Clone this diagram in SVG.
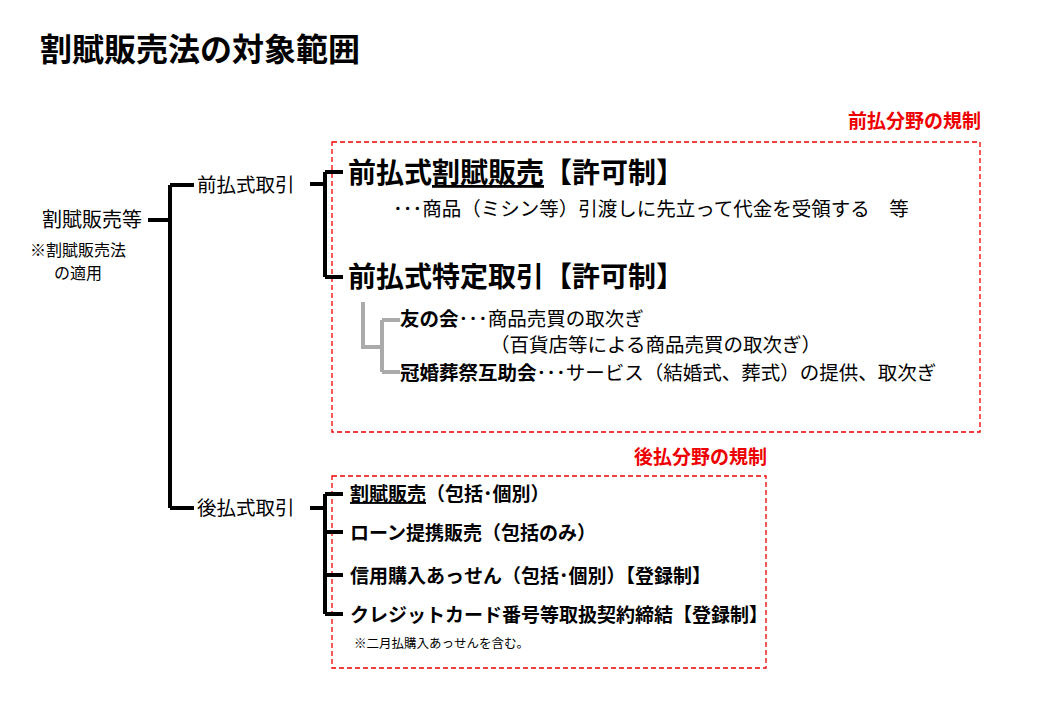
<svg xmlns="http://www.w3.org/2000/svg" width="1040" height="720" viewBox="0 0 1040 720">
<style>
text{font-family:"Noto Sans CJK JP","Noto Sans CJK SC",sans-serif;fill:#000}
.k{stroke:#000;stroke-width:4;fill:none}
.g{stroke:#aaa;stroke-width:4;fill:none}
.box{fill:none;stroke:#e00;stroke-width:1.3;stroke-dasharray:5,3}
.red{fill:#e00;font-weight:bold;font-size:19px}
.big{font-size:28px;font-weight:bold}
.m{font-size:19px;font-weight:bold}
.n{font-size:19.5px}
</style>
<rect width="1040" height="720" fill="#fff"/>
<text x="40" y="61" font-size="32" font-weight="bold">割賦販売法の対象範囲</text>
<g id="regions">
<rect class="box" x="332" y="142" width="648" height="290"/>
<rect class="box" x="332" y="476" width="434" height="192"/>
<text class="red" x="981" y="128" text-anchor="end">前払分野の規制</text>
<text class="red" x="767" y="464" text-anchor="end">後払分野の規制</text>
</g>
<g id="connectors">
<path class="k" d="M148 220H170M170 185V508M170 185H194M170 508H194"/>
<path class="k" d="M310 184H325M325 172V277M325 172H343M325 277H343"/>
<path class="k" d="M310 508H325M325 494V614M325 494H343M325 532H343M325 575H343M325 614H343"/>
<path class="g" d="M363 302V347H382M382 320V372M382 320H400M382 372H400"/>
</g>
<g id="root"><text x="142" y="227" font-size="20" text-anchor="end">割賦販売等</text>
<text x="78" y="256" font-size="16" text-anchor="middle">※割賦販売法</text>
<text x="78" y="279" font-size="16" text-anchor="middle">の適用</text></g>
<g id="mae"><text class="n" x="197" y="192">前払式取引</text></g>
<g id="ato"><text class="n" x="197" y="515">後払式取引</text></g>
<g id="kappu-mae"><text class="big" x="348" y="183">前払式<tspan text-decoration="underline">割賦販売</tspan>【許可制】</text>
<text class="n" x="393" y="216">･･･商品（ミシン等）引渡しに先立って代金を受領する　等</text></g>
<g id="tokutei"><text class="big" x="348" y="287">前払式特定取引【許可制】</text></g>
<g id="tomo"><text class="n" x="400" y="326"><tspan font-weight="bold">友の会</tspan>･･･商品売買の取次ぎ</text>
<text class="n" x="490" y="352">（百貨店等による商品売買の取次ぎ）</text></g>
<g id="kankon"><text class="n" x="400" y="380"><tspan font-weight="bold">冠婚葬祭互助会</tspan>･･･サービス（結婚式、葬式）の提供、取次ぎ</text></g>
<g id="a1"><text class="m" x="350" y="501"><tspan text-decoration="underline">割賦販売</tspan>（包括･個別）</text></g>
<g id="a2"><text class="m" x="350" y="540">ローン提携販売（包括のみ）</text></g>
<g id="a3"><text class="m" x="350" y="583">信用購入あっせん（包括･個別）【登録制】</text></g>
<g id="a4"><text class="m" x="350" y="622">クレジットカード番号等取扱契約締結【登録制】</text>
<text x="354" y="648" font-size="12.5">※二月払購入あっせんを含む。</text></g>
</svg>
